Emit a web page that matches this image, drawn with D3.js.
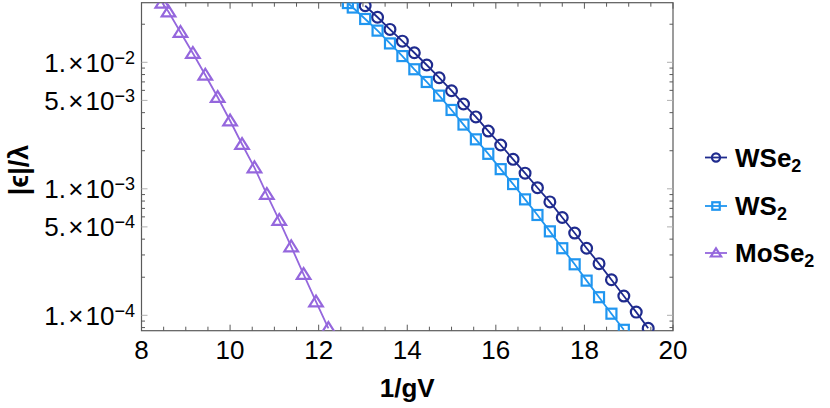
<!DOCTYPE html>
<html>
<head>
<meta charset="utf-8">
<script src="https://cdn.jsdelivr.net/npm/d3@7"></script>
<style>
  body { margin: 0; background: #fff; }
  text { font-family: "Liberation Sans", Arial, sans-serif; }
</style>
</head>
<body>
<div id="chart"></div>
<script>
// series (x = 1/gV, y = |eps|/lambda)
var wse2X = [13.05, 13.33, 13.61, 13.89, 14.16, 14.44, 14.72, 15.00, 15.27, 15.55, 15.83, 16.11,
             16.39, 16.66, 16.94, 17.22, 17.50, 17.78, 18.05, 18.33, 18.61, 18.89, 19.17, 19.44];
var wse2Y = [0.0280, 0.0227, 0.0182, 0.0147, 0.0119, 0.00952, 0.00755, 0.00596, 0.00468, 0.00370, 0.00286, 0.00222,
             0.00171, 0.00133, 0.00102, 7.88e-4, 5.93e-4, 4.47e-4, 3.39e-4, 2.56e-4, 1.91e-4, 1.42e-4, 1.06e-4, 7.89e-5];

var ws2X = [12.66, 12.77, 13.05, 13.33, 13.61, 13.89, 14.16, 14.44, 14.72, 15.00, 15.27, 15.55,
            15.83, 16.11, 16.39, 16.66, 16.94, 17.22, 17.50, 17.78, 18.05, 18.33, 18.61, 18.89];
var ws2Y = [0.0294, 0.0271, 0.0220, 0.0178, 0.0141, 0.0112, 0.00881, 0.00699, 0.00545, 0.00420, 0.00322, 0.00246,
            0.00189, 0.00143, 0.00109, 8.25e-4, 6.21e-4, 4.61e-4, 3.39e-4, 2.53e-4, 1.88e-4, 1.39e-4, 1.03e-4, 7.68e-5];

var mose2X = [8.47, 8.61, 8.88, 9.16, 9.44, 9.72, 10.00, 10.27, 10.55, 10.83, 11.11, 11.38, 11.66, 11.94, 12.22];
var mose2Y = [0.0294, 0.0251, 0.0173, 0.0118, 0.00794, 0.00529, 0.00345, 0.00225, 0.00147,
              9.05e-4, 5.64e-4, 3.49e-4, 2.11e-4, 1.28e-4, 7.89e-5];

var seriesNames = ["WSe", "WS", "MoSe"];
var xTicks = [8, 10, 12, 14, 16, 18, 20];
var yTickMant = [1, 5, 1, 5, 1];
var yTickExp = [-2, -3, -3, -4, -4];

(function () {
var width = 830, height = 408;
var pLeft = 141.5, pRight = 673, pTop = 2.7, pBottom = 330.7;

var svg = d3.select("#chart").append("svg")
  .attr("width", width)
  .attr("height", height);

var x = d3.scaleLinear().domain([8, 20]).range([pLeft, pRight]);
var y = d3.scaleLog().domain([7.556e-5, 0.02959]).range([pBottom, pTop]);

var frameCol = "#5a5a5a";

// frame
svg.append("rect")
  .attr("x", pLeft).attr("y", pTop)
  .attr("width", pRight - pLeft).attr("height", pBottom - pTop)
  .attr("fill", "none").attr("stroke", frameCol).attr("stroke-width", 1.2);

// x ticks, pointing in, on bottom and top
var xMinor = d3.range(8, 20.01, 0.5);
[[pBottom, -1], [pTop, 1]].forEach(function (p) {
  svg.append("g").selectAll("line").data(xMinor).enter().append("line")
    .attr("x1", function (d) { return x(d); })
    .attr("x2", function (d) { return x(d); })
    .attr("y1", p[0])
    .attr("y2", function (d) { return p[0] + p[1] * (d % 2 === 0 ? 6 : 4); })
    .attr("stroke", frameCol).attr("stroke-width", 1);
});

// y ticks: minor at 1..9 x decade
var yMinor = [];
[-5, -4, -3, -2].forEach(function (e) {
  for (var m = 1; m < 10; m++) {
    var v = m * Math.pow(10, e);
    if (v >= y.domain()[0] && v <= y.domain()[1]) yMinor.push(v);
  }
});
var yMajor = yTickMant.map(function (m, i) { return m * Math.pow(10, yTickExp[i]); });
[[pLeft, 1], [pRight, -1]].forEach(function (p) {
  svg.append("g").selectAll("line").data(yMinor).enter().append("line")
    .attr("y1", function (d) { return y(d); })
    .attr("y2", function (d) { return y(d); })
    .attr("x1", p[0])
    .attr("x2", function (d) {
      var major = yMajor.some(function (v) { return Math.abs(v - d) / d < 1e-6; });
      return p[0] + p[1] * (major ? 6 : 3.5);
    })
    .attr("stroke", function (d) {
      var major = yMajor.some(function (v) { return Math.abs(v - d) / d < 1e-6; });
      return major ? "#b0b0b0" : frameCol;
    })
    .attr("stroke-width", 1);
});

// x tick labels
svg.append("g").selectAll("text").data(xTicks).enter().append("text")
  .attr("x", function (d) { return x(d); })
  .attr("y", 359)
  .attr("text-anchor", "middle")
  .attr("font-size", 26)
  .text(function (d) { return d; });

// y tick labels  1.×10^n
var yl = svg.append("g").selectAll("text").data(yMajor).enter().append("text")
  .attr("x", 135)
  .attr("y", function (d) { return y(d) + 9.5; })
  .attr("text-anchor", "end")
  .attr("font-size", 26);
yl.append("tspan").text(function (d, i) { return yTickMant[i] + ".\u200A\u00D7\u200A10"; });
yl.append("tspan")
  .attr("dy", -8)
  .attr("font-size", 18)
  .text(function (d, i) { return "\u2212" + (-yTickExp[i]); });

// axis labels
svg.append("text")
  .attr("x", (pLeft + pRight) / 2)
  .attr("y", 397)
  .attr("text-anchor", "middle")
  .attr("font-size", 26)
  .attr("font-weight", "bold")
  .text("1/gV");

svg.append("text")
  .attr("transform", "translate(28,170) rotate(-90)")
  .attr("text-anchor", "middle")
  .attr("font-size", 27)
  .attr("font-weight", "bold")
  .text("|\u03F5|/\u03BB");

// data
var colors = ["#1f2b8e", "#2096f0", "#9567dd"];
var shapes = ["circle", "square", "triangle"];
var series = [
  { xs: wse2X, ys: wse2Y },
  { xs: ws2X, ys: ws2Y },
  { xs: mose2X, ys: mose2Y }
];

svg.append("clipPath").attr("id", "plotclip")
  .append("rect")
  .attr("x", pLeft).attr("y", pTop)
  .attr("width", pRight - pLeft).attr("height", pBottom - pTop);

var plot = svg.append("g").attr("clip-path", "url(#plotclip)");

function marker(g, shape, cx, cy, s, col) {
  if (shape === "circle") {
    g.append("circle").attr("cx", cx).attr("cy", cy).attr("r", 5.4 * s)
      .attr("fill", "none").attr("stroke", col).attr("stroke-width", 2.2);
  } else if (shape === "square") {
    g.append("rect").attr("x", cx - 5 * s).attr("y", cy - 5 * s)
      .attr("width", 10 * s).attr("height", 10 * s)
      .attr("fill", "none").attr("stroke", col).attr("stroke-width", 2.2);
  } else {
    var h = 6.2 * s;
    var pts = [[cx, cy - h], [cx + h * 1.1, cy + h * 0.75], [cx - h * 1.1, cy + h * 0.75]];
    g.append("polygon").attr("points", pts.map(function (p) { return p.join(","); }).join(" "))
      .attr("fill", "none").attr("stroke", col).attr("stroke-width", 2.2)
      .attr("stroke-linejoin", "miter");
  }
}

var line = d3.line()
  .x(function (d) { return x(d[0]); })
  .y(function (d) { return y(d[1]); });

series.forEach(function (s, i) {
  var pts = s.xs.map(function (v, j) { return [v, s.ys[j]]; });
  plot.append("path").datum(pts)
    .attr("d", line)
    .attr("fill", "none")
    .attr("stroke", colors[i])
    .attr("stroke-width", 1.8);
  pts.forEach(function (p) {
    marker(plot, shapes[i], x(p[0]), y(p[1]), 1, colors[i]);
  });
});

// legend
var legY = [157.5, 206, 253];
seriesNames.forEach(function (name, i) {
  var g = svg.append("g");
  g.append("line")
    .attr("x1", 705).attr("x2", 727)
    .attr("y1", legY[i]).attr("y2", legY[i])
    .attr("stroke", colors[i]).attr("stroke-width", 1.8);
  marker(g, shapes[i], 716, legY[i], 0.75, colors[i]);
  var t = g.append("text")
    .attr("x", 735)
    .attr("y", legY[i] + 9)
    .attr("font-size", 26)
    .attr("font-weight", "bold");
  t.append("tspan").text(name);
  t.append("tspan").attr("dy", 5).attr("font-size", 18).text("2");
});
})();
</script>
</body>
</html>
